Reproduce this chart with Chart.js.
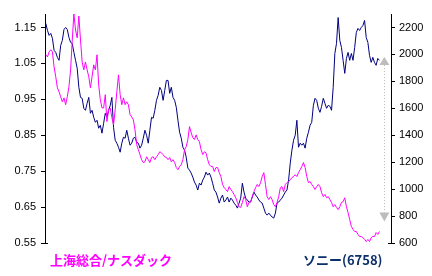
<!DOCTYPE html>
<html>
<head>
<meta charset="utf-8">
<script src="https://cdn.jsdelivr.net/npm/chart.js@4"></script>
<style>
  body { margin: 0; background: #fff; }
  #wrap { position: relative; width: 432px; height: 276px; }
  .lbl { position: absolute; top: 251px; font: bold 13px "Noto Sans CJK JP", sans-serif; line-height: 18px; white-space: nowrap; }
  #lblA { left: 50px; color: #ff00ff; }
  #lblB { left: 303px; color: #0a2f6b; }
</style>
</head>
<body>
<div id="wrap">
  <canvas id="chart" width="432" height="276"></canvas>
  <span class="lbl" id="lblA">上海総合/ナスダック</span>
  <span class="lbl" id="lblB">ソニー(6758)</span>
</div>
<script>
// 上海総合/ナスダック (left axis)
const ratio = [
  1.074, 1.068, 1.082, 1.088, 1.082, 1.040, 1.013, 0.982, 0.971, 0.957, 0.943, 0.954, 0.935,
  0.957, 0.985, 1.032, 1.115, 1.188, 1.143, 1.121, 1.182, 1.115, 1.054, 1.032, 1.054, 1.032,
  1.013, 0.982, 1.013, 1.046, 1.032, 1.074, 0.990, 0.949, 0.926, 0.926, 0.963, 0.888, 0.921,
  0.926, 0.899, 0.879, 0.921, 0.971, 1.018, 0.963, 0.935, 0.954, 0.935, 0.943, 0.935, 0.907,
  0.901, 0.893, 0.865, 0.824, 0.810, 0.796, 0.782, 0.774, 0.776, 0.790, 0.782, 0.774, 0.788,
  0.790, 0.782, 0.790, 0.796, 0.804, 0.801, 0.796, 0.790, 0.788, 0.782, 0.788, 0.776, 0.782,
  0.774, 0.760, 0.754, 0.763, 0.768, 0.782, 0.810, 0.818, 0.838, 0.874, 0.857, 0.843, 0.838,
  0.851, 0.838, 0.832, 0.810, 0.796, 0.804, 0.801, 0.782, 0.768, 0.763, 0.763, 0.749,
  0.760, 0.760, 0.746, 0.735, 0.713, 0.704, 0.699, 0.693, 0.707, 0.699, 0.693, 0.685, 0.676,
  0.663, 0.651, 0.649, 0.663, 0.679, 0.671, 0.651, 0.663, 0.665, 0.679, 0.693, 0.704, 0.713,
  0.707, 0.718, 0.735, 0.746, 0.713, 0.679, 0.671, 0.679, 0.671, 0.657, 0.651, 0.663, 0.679,
  0.704, 0.707, 0.693, 0.713, 0.718, 0.721, 0.726, 0.732, 0.735, 0.740, 0.735, 0.746,
  0.754, 0.763, 0.774, 0.760, 0.735, 0.718, 0.721, 0.713, 0.707, 0.699, 0.707, 0.713, 0.707,
  0.690, 0.679, 0.685, 0.676, 0.679, 0.671, 0.663, 0.651, 0.657, 0.649, 0.643, 0.651, 0.663,
  0.665, 0.676, 0.651, 0.635, 0.615, 0.596, 0.588, 0.582, 0.582, 0.574, 0.568, 0.568, 0.565,
  0.560, 0.554, 0.560, 0.554, 0.565, 0.568, 0.568, 0.579, 0.574, 0.582
];

// ソニー(6758) (right axis, yen)
const sony = [
  2230, 2178, 2141, 2156, 2119, 2030, 2015, 1978, 1956, 2067, 2104, 2185, 2200,
  2185, 2126, 2089, 2081, 2015, 1956, 1896, 1756, 1681, 1674, 1600, 1585, 1637,
  1681, 1563, 1585, 1533, 1496, 1511, 1452, 1474, 1415, 1489, 1563, 1533, 1585,
  1622, 1681, 1459, 1363, 1341, 1311, 1274, 1341, 1385, 1378, 1437, 1378, 1326,
  1341, 1378, 1385, 1348, 1341, 1304, 1326, 1378, 1437, 1400, 1341, 1437, 1533,
  1526, 1585, 1659, 1696, 1756, 1733, 1659, 1733, 1807, 1807, 1711, 1756, 1681,
  1659, 1607, 1511, 1422, 1378, 1311, 1289, 1237, 1156, 1141, 1119, 1089, 1052,
  1030, 993, 1044, 1030, 1067, 1089, 1126, 1104, 1119, 1089, 1044, 993,
  978, 941, 896, 933, 956, 904, 919, 941, 904, 933, 919, 896, 881,
  859, 896, 933, 1044, 978, 933, 919, 904, 904, 941, 978, 956, 941,
  919, 904, 896, 859, 822, 807, 822, 807, 793, 785, 822, 896, 904,
  919, 933, 956, 978, 993, 1067, 1193, 1289, 1363, 1400, 1511, 1311,
  1341, 1326, 1341, 1304, 1378, 1422, 1474, 1496, 1622, 1674, 1659, 1600, 1570,
  1615, 1674, 1637, 1600, 1622, 1615, 1585, 1756, 2007, 2081, 2274, 2104, 2052,
  1956, 1859, 1970, 2015, 1956, 2007, 1956, 2052, 2163, 2193, 2178, 2200, 2215,
  2252, 2126, 2089, 1993, 1941, 1978, 1941, 1919, 1970, 1956
];

const leftTicks = [0.55, 0.65, 0.75, 0.85, 0.95, 1.05, 1.15];
const rightTicks = [600, 800, 1000, 1200, 1400, 1600, 1800, 2000, 2200];

// gray arrow on the right: from about the current price down to the target
const arrowIndex = 205;
const arrowTop = 1980;
const arrowBottom = 760;

const tickFont = { family: 'Arial, "Liberation Sans", sans-serif', size: 11 };

const arrowPlugin = {
    id: 'arrows',
    afterDraw(chart) {
        const ctx = chart.ctx;
        const x = chart.scales.x.getPixelForValue(arrowIndex);
        const yT = chart.scales.y2.getPixelForValue(arrowTop);
        const yB = chart.scales.y2.getPixelForValue(arrowBottom);
        const area = chart.chartArea;
        ctx.save();
        // dotted stem
        ctx.strokeStyle = '#b8b8b8';
        ctx.lineWidth = 1;
        ctx.setLineDash([1, 2]);
        ctx.beginPath();
        ctx.moveTo(Math.round(x) + 0.5, yT + 8);
        ctx.lineTo(Math.round(x) + 0.5, yB - 9);
        ctx.stroke();
        ctx.setLineDash([]);
        // triangles
        ctx.fillStyle = '#bdbdbd';
        ctx.beginPath();
        ctx.moveTo(x, yT);
        ctx.lineTo(x + 5, yT + 8);
        ctx.lineTo(x - 5, yT + 8);
        ctx.closePath();
        ctx.fill();
        ctx.beginPath();
        ctx.moveTo(x, yB);
        ctx.lineTo(x + 5, yB - 9);
        ctx.lineTo(x - 5, yB - 9);
        ctx.closePath();
        ctx.fill();
        // little stubs at the foot of both axes
        ctx.strokeStyle = '#000';
        ctx.beginPath();
        ctx.moveTo(area.left, Math.round(area.bottom) + 0.5);
        ctx.lineTo(area.left + 3, Math.round(area.bottom) + 0.5);
        ctx.moveTo(area.right - 3, Math.round(area.bottom) + 0.5);
        ctx.lineTo(area.right, Math.round(area.bottom) + 0.5);
        ctx.stroke();
        ctx.restore();
    }
};

new Chart(document.getElementById('chart'), {
    type: 'line',
    data: {
        datasets: [{
            label: '上海総合/ナスダック',
            data: ratio.map((v, i) => ({ x: i, y: v })),
            borderColor: '#ff00ff',
            borderWidth: 1,
            pointRadius: 0,
            tension: 0,
            yAxisID: 'y'
        }, {
            label: 'ソニー(6758)',
            data: sony.map((v, i) => ({ x: i, y: v })),
            borderColor: '#000080',
            borderWidth: 1,
            pointRadius: 0,
            tension: 0,
            yAxisID: 'y2'
        }]
    },
    options: {
        responsive: false,
        animation: false,
        devicePixelRatio: 1,
        layout: { padding: { top: 14, bottom: 33, left: 0, right: 0 } },
        plugins: { legend: { display: false }, tooltip: { enabled: false } },
        scales: {
            x: { type: 'linear', display: false, min: -0.5, max: 209 },
            y: {
                position: 'left',
                min: 0.55,
                max: 1.1875,
                afterBuildTicks: s => { s.ticks = leftTicks.map(v => ({ value: v })); },
                afterFit: s => { s.width = 45; },
                grid: { display: true, drawOnChartArea: false, tickLength: 4, color: '#000' },
                border: { display: true, color: '#000', width: 1 },
                ticks: { color: '#000', font: tickFont, padding: 5, callback: v => v.toFixed(2) }
            },
            y2: {
                position: 'right',
                min: 600,
                max: 2300,
                afterBuildTicks: s => { s.ticks = rightTicks.map(v => ({ value: v })); },
                afterFit: s => { s.width = 41; },
                grid: { display: true, drawOnChartArea: false, tickLength: 4, color: '#000' },
                border: { display: true, color: '#000', width: 1 },
                ticks: { color: '#000', font: tickFont, padding: 4, callback: v => String(v) }
            }
        }
    },
    plugins: [arrowPlugin]
});
</script>
</body>
</html>
